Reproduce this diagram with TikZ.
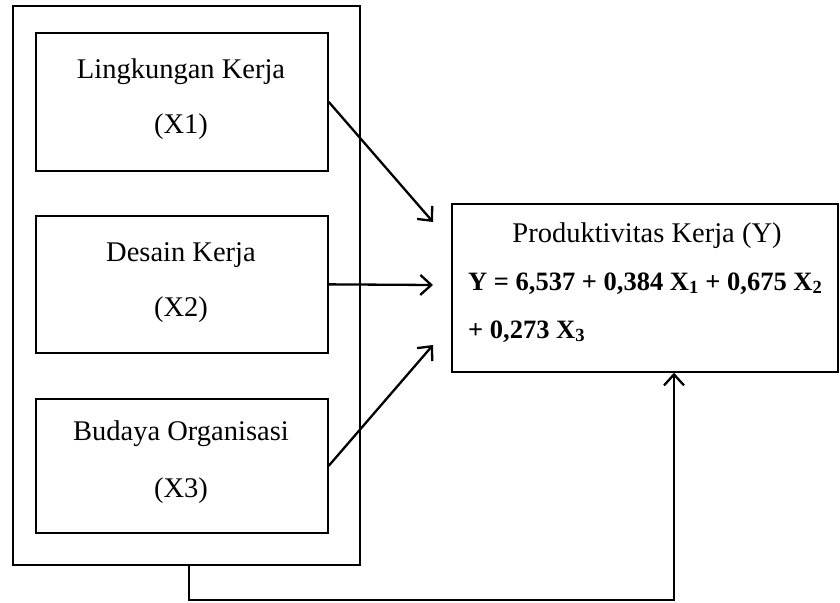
\documentclass[tikz,border=0pt]{standalone}
\usepackage{fontspec}
\setmainfont{Liberation Serif}
\usetikzlibrary{arrows.meta}
\begin{document}
\begin{tikzpicture}[x=1pt,y=-1pt,
  box/.style={draw, line width=1.7pt, inner sep=0pt, anchor=north west},
  conn/.style={line width=2.3pt, -{Straight Barb[length=11pt,width=20pt,line width=2.3pt]}},
  lbl/.style={font=\fontsize{28.5}{34}\selectfont, inner sep=0pt, anchor=base},
  eq/.style={font=\fontsize{26.5}{32}\selectfont\bfseries, inner sep=0pt, anchor=base west}]
\useasboundingbox (0,0) rectangle (840,602);
\fill[white] (0,0) rectangle (840,602);
\node[box, minimum width=347pt, minimum height=559pt] (outer) at (12,5) {};
\node[box, minimum width=292pt, minimum height=138pt] (b1) at (35,32) {};
\node[box, minimum width=292pt, minimum height=137pt] (b2) at (35,215) {};
\node[box, minimum width=292pt, minimum height=134pt] (b3) at (35,398) {};
\node[box, minimum width=386pt, minimum height=168pt] (Y) at (451,203) {};
\node[lbl] (t1a) at (181,78) {Lingkungan Kerja};
\node[lbl] (t1b) at (181,133) {(X1)};
\node[lbl] (t2a) at (181,261) {Desain Kerja};
\node[lbl] (t2b) at (181,316) {(X2)};
\node[lbl] (t3a) at (181,440) {Budaya Organisasi};
\node[lbl] (t3b) at (181,497) {(X3)};
\node[lbl] (ty) at (647,242) {Produktivitas Kerja (Y)};
\node[eq] (eq1) at (468,290) {Y = 6,537 + 0,384 X\textsubscript{1} + 0,675 X\textsubscript{2}};
\node[eq] (eq2) at (468,338) {+ 0,273 X\textsubscript{3}};
\coordinate (e1) at (433,222);
\coordinate (e2) at (433,285);
\coordinate (e3) at (433,345);
\coordinate (c0) at (189,564);
\coordinate (c1) at (674,600);
\draw[conn] (b1.east) -- (e1);
\draw[conn] (b2.east) -- (e2);
\draw[conn] (b3.east) -- (e3);
\draw[conn] (c0) |- (c1) -- (Y.south -| c1);
\end{tikzpicture}
\end{document}
